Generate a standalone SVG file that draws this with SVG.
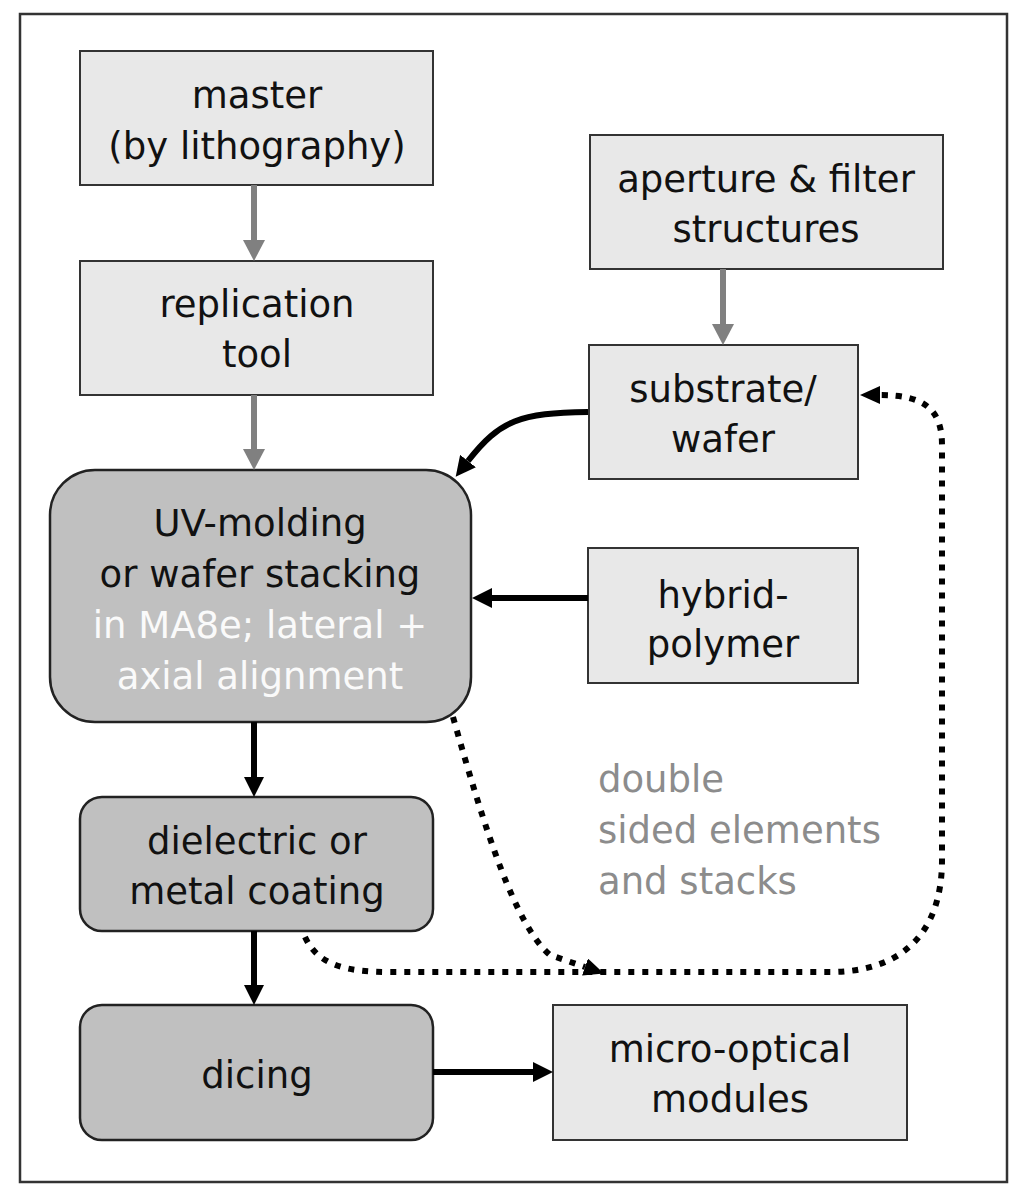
<svg xmlns="http://www.w3.org/2000/svg" width="1024" height="1192" viewBox="0 0 1024 1192">
<style>
.box{fill:#e8e8e8;stroke:#333;stroke-width:2}
.dark{fill:#c0c0c0;stroke:#222;stroke-width:2.5}
.t{font-family:"DejaVu Sans","Liberation Sans",sans-serif;font-size:37px;fill:#111;text-anchor:middle}
.w{fill:#fafafa}
.g{fill:#8c8c8c;text-anchor:start}
.ga{stroke:#808080;stroke-width:6;fill:none}
.ba{stroke:#000;stroke-width:6;fill:none}
.da{stroke:#000;stroke-width:6;fill:none;stroke-dasharray:6 8}
</style>
<defs>
<marker id="hg" viewBox="0 0 21 22" refX="0" refY="11" markerWidth="21" markerHeight="22" markerUnits="userSpaceOnUse" orient="auto"><path d="M0,0 L21,11 L0,22 z" fill="#808080" stroke="none"/></marker>
<marker id="hb" viewBox="0 0 20 20" refX="0" refY="10" markerWidth="20" markerHeight="20" markerUnits="userSpaceOnUse" orient="auto"><path d="M0,0 L20,10 L0,20 z" fill="#000" stroke="none"/></marker>
<marker id="hd" viewBox="0 0 20 18" refX="0" refY="9" markerWidth="20" markerHeight="18" markerUnits="userSpaceOnUse" orient="auto"><path d="M0,0 L20,9 L0,18 z" fill="#000" stroke="none"/></marker>
</defs>
<rect x="0" y="0" width="1024" height="1192" fill="#fff"/>
<rect id="frame" x="20" y="14" width="987" height="1168" fill="none" stroke="#333" stroke-width="2.5"/>

<g id="master"><rect class="box" x="80" y="51" width="353" height="134"/><text class="t" x="257" y="108">master</text><text class="t" x="257" y="159">(by lithography)</text></g>
<g id="replication"><rect class="box" x="80" y="261" width="353" height="134"/><text class="t" x="257" y="317">replication</text><text class="t" x="257" y="367">tool</text></g>
<g id="aperture"><rect class="box" x="590" y="135" width="353" height="134"/><text class="t" x="766" y="192">aperture &amp; filter</text><text class="t" x="766" y="242">structures</text></g>
<g id="substrate"><rect class="box" x="589" y="345" width="269" height="134"/><text class="t" x="723" y="402">substrate/</text><text class="t" x="723" y="452">wafer</text></g>
<g id="uvmolding"><rect class="dark" x="50" y="470" width="421" height="252" rx="45" ry="45"/><text class="t" x="260" y="536">UV-molding</text><text class="t" x="260" y="587">or wafer stacking</text><text class="t w" x="260" y="638">in MA8e; lateral +</text><text class="t w" x="260" y="689">axial alignment</text></g>
<g id="hybrid"><rect class="box" x="588" y="548" width="270" height="135"/><text class="t" x="723" y="608">hybrid-</text><text class="t" x="723" y="657">polymer</text></g>
<g id="dielectric"><rect class="dark" x="80" y="797" width="353" height="134" rx="22" ry="22"/><text class="t" x="257" y="854">dielectric or</text><text class="t" x="257" y="904">metal coating</text></g>
<g id="dicing"><rect class="dark" x="80" y="1005" width="353" height="135" rx="22" ry="22"/><text class="t" x="257" y="1088">dicing</text></g>
<g id="modules"><rect class="box" x="553" y="1005" width="354" height="135"/><text class="t" x="730" y="1062">micro-optical</text><text class="t" x="730" y="1112">modules</text></g>
<g id="note"><text class="t g" x="598" y="792">double</text><text class="t g" x="598" y="843">sided elements</text><text class="t g" x="598" y="894">and stacks</text></g>

<g id="connectors">
<line class="ga" x1="254" y1="185" x2="254" y2="240" marker-end="url(#hg)"/>
<line class="ga" x1="254" y1="395" x2="254" y2="449" marker-end="url(#hg)"/>
<line class="ga" x1="723" y1="269" x2="723" y2="324" marker-end="url(#hg)"/>
<path class="ba" d="M588,412 C520,413 500,420 468,461" marker-end="url(#hb)"/>
<line class="ba" x1="588" y1="598" x2="492" y2="598" marker-end="url(#hb)"/>
<line class="ba" x1="254" y1="722" x2="254" y2="777" marker-end="url(#hb)"/>
<line class="ba" x1="254" y1="931" x2="254" y2="985" marker-end="url(#hb)"/>
<line class="ba" x1="433" y1="1072" x2="533" y2="1072" marker-end="url(#hb)"/>
<path class="da" d="M453,717 C485,830 515,925 550,955 L585,967" marker-end="url(#hd)"/>
<path class="da" d="M305,937 C318,965 345,972 390,972 L830,972 C900,972 942,935 942,860 L942,445 C942,410 925,395 880,395" marker-end="url(#hd)"/>
</g>
</svg>
